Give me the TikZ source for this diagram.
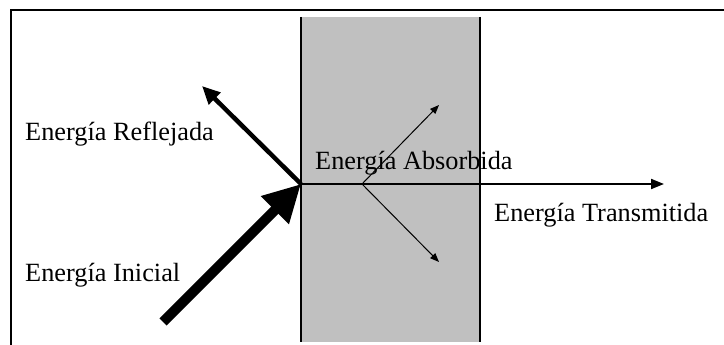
\documentclass[tikz,border=0pt]{standalone}
\usepackage{fontspec}
\setmainfont{Liberation Serif}
\usetikzlibrary{arrows.meta}
\tikzset{
  lbl/.style={anchor=base west, inner sep=0pt, font=\fontsize{26.3}{30}\selectfont},
  thinarrow/.style={line width=1pt, -{Triangle[length=9pt,width=7pt]}},
}
\begin{document}
\begin{tikzpicture}[x=1pt,y=-1pt]
\useasboundingbox (0,0) rectangle (724,345);
% frame
\draw[line width=2.5pt] (11,345) -- (11,10) -- (724,10);
% slab
\fill[fill={rgb,255:red,192;green,192;blue,192}] (301,17) rectangle (480,342);
\draw[line width=1.3pt] (301,17) -- (301,342);
\draw[line width=2.6pt] (480,17) -- (480,342);
% points
\coordinate (O) at (301,184);
\coordinate (R) at (202,86);
\coordinate (I) at (163,322);
\coordinate (T) at (664,184);
\coordinate (A) at (362,184);
\coordinate (AU) at (439,105);
\coordinate (AD) at (439,262);
% arrows
\draw[line width=2pt, -{Triangle[length=13pt,width=10pt]}] (O) -- (T);
\draw[line width=4.5pt, -{Triangle[length=18pt,width=16pt]}] (O) -- (R);
\draw[thinarrow] (A) -- (AU);
\draw[thinarrow] (A) -- (AD);
\draw[line width=10pt, -{Triangle[length=37pt,width=37pt]}] (I) -- (O);
% labels
\node[lbl] (lr) at (25,141) {Energía Reflejada};
\node[lbl] (la) at (315,170) {Energía Absorbida};
\node[lbl] (lt) at (494,222) {Energía Transmitida};
\node[lbl] (li) at (25,281) {Energía Inicial};
\end{tikzpicture}
\end{document}
